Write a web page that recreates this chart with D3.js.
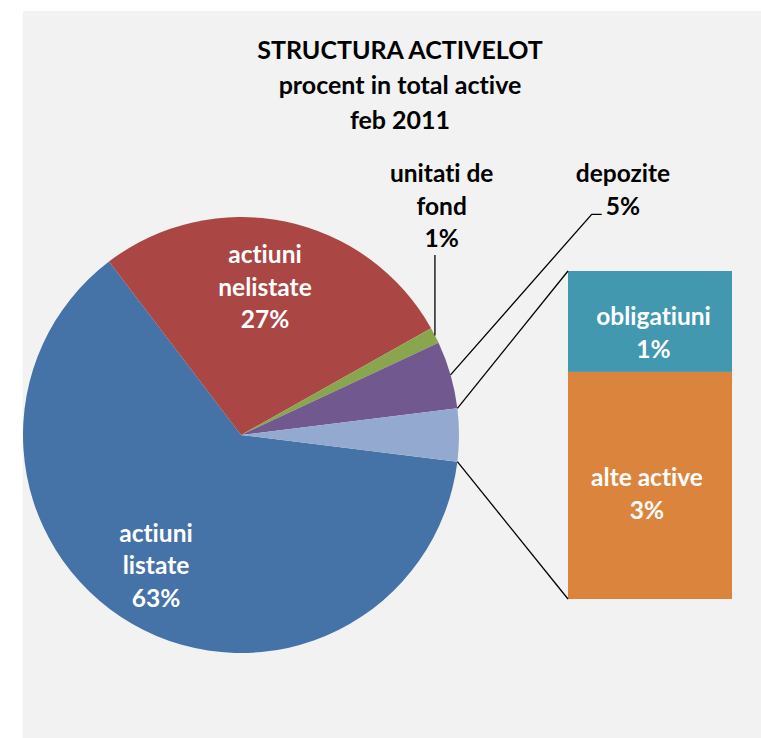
<!DOCTYPE html>
<html>
<head>
<meta charset="utf-8">
<script src="https://cdn.jsdelivr.net/npm/d3@7"></script>
<style>
  html, body { margin: 0; padding: 0; background: #ffffff; }
  svg { display: block; }
  text { font-family: Lato, "Open Sans", sans-serif; font-weight: bold; font-variant-ligatures: none; font-feature-settings: "liga" 0, "clig" 0; }
</style>
</head>
<body>
<svg id="chart" width="761" height="738"></svg>
<script>
// ---- data ----
const titleLines = ["STRUCTURA ACTIVELOT", "procent in total active", "feb 2011"];
const pieCategories = ["actiuni listate", "actiuni nelistate", "unitati de fond", "depozite"];
const pieValues = [62.7, 27.2, 1.2, 5.0];
const barCategories = ["obligatiuni", "alte active"];
const barValues = [1.2, 2.7];
const pieLabelLines = [["actiuni", "listate", "63%"], ["actiuni", "nelistate", "27%"], ["unitati de", "fond", "1%"], ["depozite", "5%"]];
const barLabelLines = [["obligatiuni", "1%"], ["alte active", "3%"]];
const pieColors = ["#4572A7", "#AA4643", "#89A54E", "#71588F"];
const otherColor = "#93A9CF";
const barColors = ["#4198AF", "#DB843D"];

// ---- layout ----
const svg = d3.select("#chart");
svg.append("rect").attr("x", 22.7).attr("y", 11).attr("width", 761 - 22.7).attr("height", 738 - 11).attr("fill", "#F2F2F2");

const cx = 241, cy = 435, R = 218;
const otherTotal = d3.sum(barValues);
const total = d3.sum(pieValues) + otherTotal;
const pieData = pieValues.map((v, i) => ({ name: pieCategories[i], value: v, color: pieColors[i], idx: i }))
  .concat([{ name: "other", value: otherTotal, color: otherColor, idx: -1 }]);
const otherAngle = otherTotal / total * 2 * Math.PI;
const start = Math.PI / 2 + otherAngle / 2;
const arcs = d3.pie().sort(null).value(d => d.value).startAngle(start).endAngle(start + 2 * Math.PI)(pieData);
const arc = d3.arc().innerRadius(0).outerRadius(R);

const g = svg.append("g").attr("transform", `translate(${cx},${cy})`);
g.selectAll("path").data(arcs).join("path").attr("d", arc).attr("fill", d => d.data.color);

// ---- bar of pie ----
const barX = 568, barW = 164, barTop = 271, barBottom = 599;
const yBar = d3.scaleLinear().domain([0, otherTotal]).range([barTop, barBottom]);
let acc = 0;
const barStacks = barValues.map((v, i) => { const s = { y0: acc, y1: acc + v, i }; acc += v; return s; });
svg.selectAll("rect.bar").data(barStacks).join("rect").attr("class", "bar")
  .attr("x", barX).attr("width", barW)
  .attr("y", d => yBar(d.y0)).attr("height", d => yBar(d.y1) - yBar(d.y0))
  .attr("fill", d => barColors[d.i]);

// connector lines
const otherArc = arcs[arcs.length - 1];
const pt = a => [cx + R * Math.sin(a), cy - R * Math.cos(a)];
const pTop = pt(otherArc.startAngle), pBot = pt(otherArc.endAngle);
svg.append("line").attr("x1", pTop[0]).attr("y1", pTop[1]).attr("x2", barX).attr("y2", barTop).attr("stroke", "#000").attr("stroke-width", 1.3);
svg.append("line").attr("x1", pBot[0]).attr("y1", pBot[1]).attr("x2", barX).attr("y2", barBottom).attr("stroke", "#000").attr("stroke-width", 1.3);

// ---- title ----
svg.append("text").attr("text-anchor", "middle").attr("font-size", 25).attr("fill", "#000")
  .selectAll("tspan").data(titleLines).join("tspan")
  .attr("x", 400).attr("y", (d, i) => 59.3 + i * 35).text(d => d);

// ---- labels ----
const fs = 24.5, lh = 32.5;
function multi(x, y0, lines, color) {
  svg.append("text").attr("text-anchor", "middle").attr("font-size", fs).attr("fill", color)
    .selectAll("tspan").data(lines).join("tspan")
    .attr("x", x).attr("y", (d, i) => y0 + i * lh).text(d => d);
}
multi(156, 541.7, pieLabelLines[0], "#fff");
multi(265, 263.3, pieLabelLines[1], "#fff");
multi(441.7, 182.3, pieLabelLines[2], "#000");
multi(623, 182.3, pieLabelLines[3], "#000");
multi(653.5, 325, barLabelLines[0], "#fff");
multi(647, 486, barLabelLines[1], "#fff");

// leader lines
const midA = a => (a.startAngle + a.endAngle) / 2;
const pU = pt(midA(arcs[2]));
svg.append("polyline").attr("points", `${pU[0]},${pU[1]} ${pU[0]},255`).attr("fill", "none").attr("stroke", "#000").attr("stroke-width", 1.3);
const pD = pt(midA(arcs[3]));
svg.append("polyline").attr("points", `${pD[0]},${pD[1]} 591.7,214.3 601.7,214.3`).attr("fill", "none").attr("stroke", "#000").attr("stroke-width", 1.3);
</script>
</body>
</html>
